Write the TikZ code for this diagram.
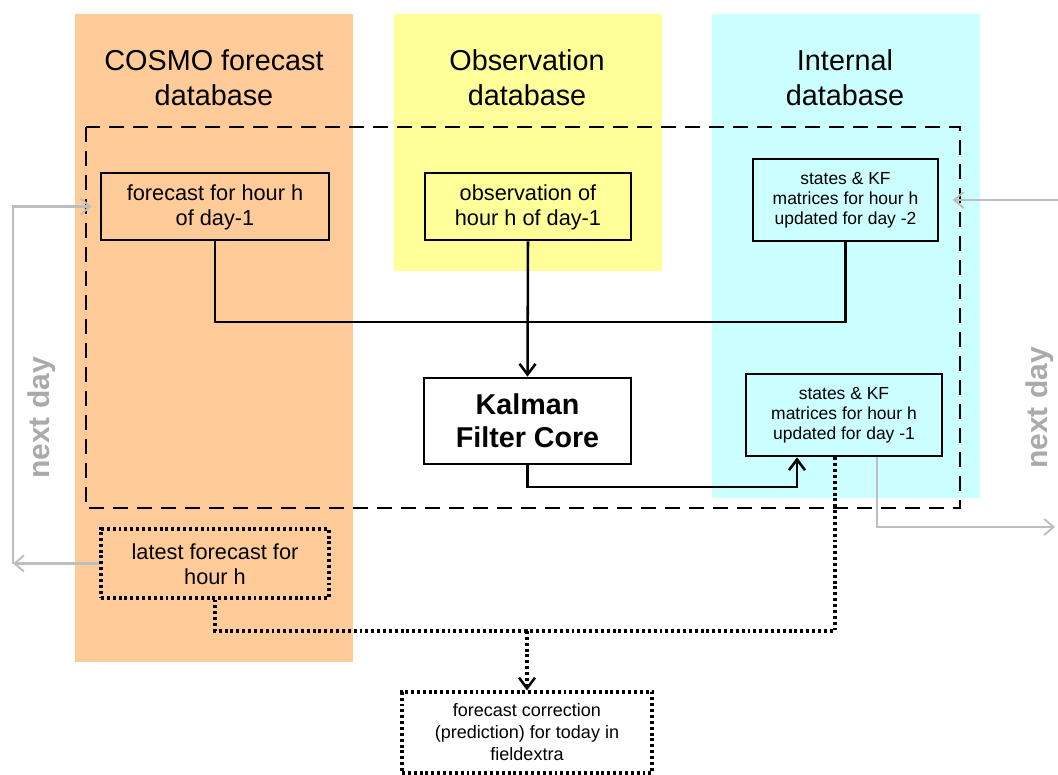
\documentclass[tikz,border=0pt]{standalone}
\usepackage{fontspec}
\setmainfont{Liberation Sans}
\usetikzlibrary{arrows.meta,calc}
\definecolor{colorange}{RGB}{255,204,153}
\definecolor{colyellow}{RGB}{255,255,153}
\definecolor{colcyan}{RGB}{204,255,255}
\definecolor{arrgray}{RGB}{190,190,190}
\definecolor{txtgray}{RGB}{170,170,170}
\tikzset{
  header/.style={align=center,font=\fontsize{21.6pt}{26.25pt}\selectfont},
  mbox/.style={draw=black,line width=2.1pt,align=center,inner sep=0pt,font=\fontsize{16.3pt}{18.75pt}\selectfont},
  sbox/.style={mbox,font=\fontsize{13.1pt}{15pt}\selectfont},
  dbox/.style={mbox,line width=2.3pt,dash pattern=on 2.2pt off 2.2pt},
  conn/.style={line width=1.9pt,black},
  arr/.style={conn,-{Straight Barb[length=8pt,width=12pt,line width=1.9pt]}},
  dconn/.style={line width=2.3pt,dash pattern=on 2.2pt off 2.2pt},
  darr/.style={dconn,-{Straight Barb[length=8pt,width=12pt,line width=1.9pt]}},
  garr/.style={line width=1.7pt,arrgray,-{Straight Barb[length=7pt,width=12pt,line width=1.5pt]}},
  nextday/.style={rotate=90,text=txtgray,font=\fontsize{22.5pt}{26pt}\selectfont\bfseries},
}
\begin{document}
\begin{tikzpicture}[x=0.75pt,y=-0.75pt]
\useasboundingbox (0,0) rectangle (1058,775);
% columns
\fill[colorange] (75,14) rectangle (353,662);
\fill[colyellow] (394,14) rectangle (662,271);
\fill[colcyan] (712,14) rectangle (980,498);
% headers
\node[header] (h1) at (214,77.5) {COSMO forecast\\database};
\node[header] (h2) at (527,77.5) {Observation\\database};
\node[header] (h3) at (845,77.5) {Internal\\database};
% dashed frame
\draw[line width=1.8pt,dash pattern=on 11pt off 7pt] (86,127) rectangle (960,508);
% boxes
\node[mbox,fill=colorange,minimum width=171pt,minimum height=50.25pt] (fc) at (215,206.5) {\strut forecast for hour h\\of day-1};
\node[mbox,fill=colyellow,minimum width=154.5pt,minimum height=50.25pt] (ob) at (528,206.5) {\strut observation of\\hour h of day-1};
\node[sbox,fill=colcyan,minimum width=138.75pt,minimum height=61.5pt] (s2) at (845.5,200) {states \& KF\\matrices for hour h\\updated for day -2};
\node[mbox,fill=white,minimum width=155.25pt,minimum height=64.5pt,font=\fontsize{21.5pt}{24.75pt}\selectfont\bfseries] (kf) at (527.5,421) {Kalman\\Filter Core};
\node[sbox,fill=colcyan,minimum width=147pt,minimum height=61.5pt] (s1) at (844,415) {states \& KF\\matrices for hour h\\updated for day -1};
\node[dbox,fill=colorange,minimum width=171pt,minimum height=51.75pt] (lf) at (215,563.5) {\strut latest forecast for\\hour h};
\node[dbox,fill=white,minimum width=187.5pt,minimum height=60.75pt,font=\fontsize{13.5pt}{16.5pt}\selectfont] (fcorr) at (527,732.5) {forecast correction\\(prediction) for today in\\fieldextra};
% solid connectors
\coordinate (j1) at (527,322);
\draw[conn] (fc.south) |- (j1);
\draw[conn] (s2.south) |- (j1);
\draw[arr] (ob.south) -- (kf.north);
\draw[arr] (kf.south) |- (797,487) -- (797,0 |- s1.south);
% dotted connectors
\coordinate (j2) at (527,631);
\draw[dconn] (lf.south) |- (j2);
\draw[dconn] (835,0 |- s1.south) |- (j2);
\draw[darr] (j2) -- (fcorr.north);
% gray next-day arrows
\coordinate (lb) at (13,0 |- lf.west);
\draw[garr] (lf.west) -- (lb);
\draw[garr,shorten >=6pt] (lb) |- (fc.west);
\coordinate (rt) at (1058,0 |- s2.east);
\draw[garr,shorten >=10pt] (rt) -- (s2.east);
\coordinate (rb) at (1055,527);
\draw[garr] (877,0 |- s1.south) |- (rb);
\node[nextday] (nd1) at (42,418) {next day};
\node[nextday] (nd2) at (1040,408) {next day};
\end{tikzpicture}
\end{document}
